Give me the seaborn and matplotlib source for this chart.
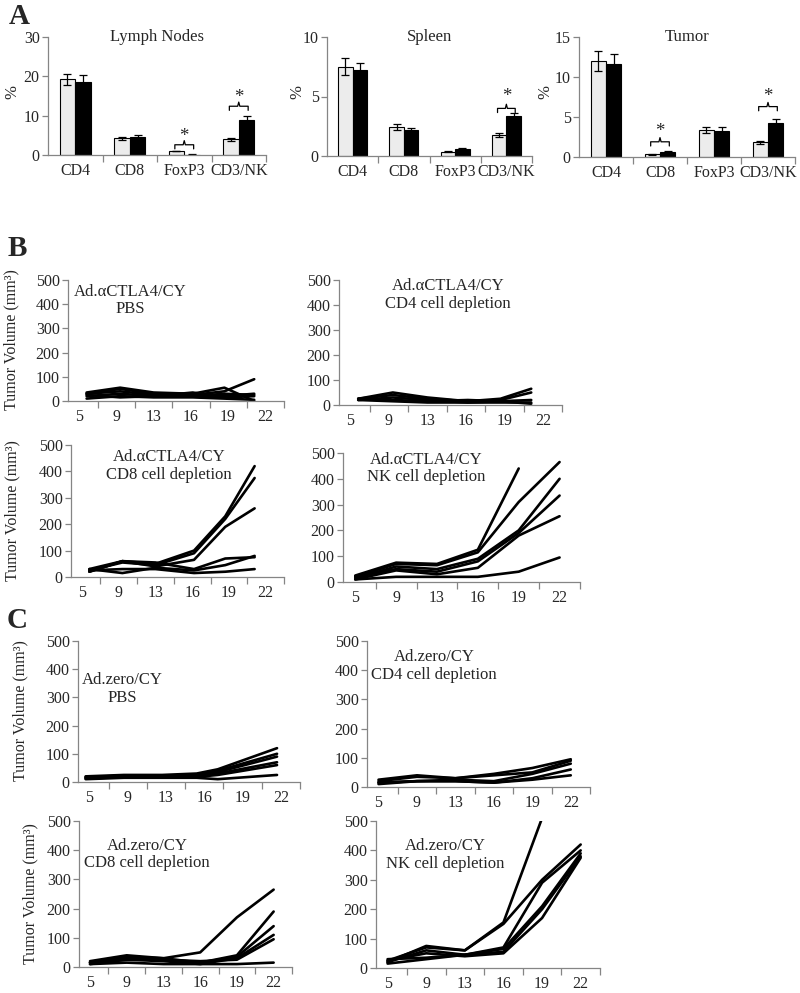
import numpy as np
import pandas as pd
import matplotlib
matplotlib.use("Agg")
import matplotlib.pyplot as plt
import seaborn as sns

sns.set_style("white")
plt.rcParams["font.family"] = ["Liberation Serif", "DejaVu Serif"]

# ---- panel A data: % of cells, control (light) vs treated (black)
cells = ["CD4", "CD8", "FoxP3", "CD3/NK"]
groups = ["Ad.zero/CY", "Ad.aCTLA4/CY"]

ln_ctrl = [19.2, 4.3, 1.0, 4.0]
ln_ctrl_err = [1.5, 0.4, 0.1, 0.35]
ln_trt = [18.6, 4.6, 0.1, 9.0]
ln_trt_err = [1.8, 0.5, 0.05, 1.0]

sp_ctrl = [7.5, 2.45, 0.35, 1.75]
sp_ctrl_err = [0.7, 0.25, 0.03, 0.15]
sp_trt = [7.25, 2.15, 0.6, 3.35]
sp_trt_err = [0.6, 0.2, 0.05, 0.3]

tu_ctrl = [12.0, 0.35, 3.4, 1.85]
tu_ctrl_err = [1.3, 0.05, 0.35, 0.2]
tu_trt = [11.6, 0.65, 3.3, 4.3]
tu_trt_err = [1.3, 0.1, 0.4, 0.5]

# significance brackets: (category index, bracket height, star height)
ln_sig = [(2, 2.6, 4.8), (3, 12.4, 14.5)]
sp_sig = [(3, 4.0, 5.0)]
tu_sig = [(1, 1.9, 3.2), (3, 6.3, 7.6)]

# ---- panels B and C: tumour volume (mm3) per mouse
day_labels = ["5", "9", "13", "16", "19", "22"]
pos_b = [0.2, 1.1, 2.0, 3.05, 3.9, 4.7]
pos_c = [0.0, 1.0, 2.0, 3.0, 4.0, 5.0]
pos_c_pbs = [-0.1, 0.9, 1.9, 2.8, 3.35, 4.9]

b_pbs = [[35, 55, 35, 30, 55, 0],
         [30, 50, 30, 25, 40, 90],
         [20, 30, 20, 20, 20, 30],
         [25, 15, 20, 35, 15, 20],
         [10, 20, 15, 15, 10, 5],
         [30, 40, 25, 20, 30, 25]]
b_cd4 = [[25, 50, 30, 15, 25, 65],
         [25, 40, 25, 15, 20, 50],
         [20, 30, 20, 10, 15, 20],
         [20, 15, 10, 10, 10, 10],
         [25, 20, 15, 20, 15, 5]]
b_cd8 = [[20, 60, 50, 100, 230, 420],
         [25, 55, 45, 90, 220, 375],
         [30, 60, 40, 65, 190, 260],
         [20, 60, 55, 30, 70, 75],
         [30, 15, 35, 25, 45, 80],
         [25, 30, 30, 15, 20, 30]]
b_nk = [[25, 75, 70, 125, 440, np.nan],
        [20, 70, 65, 115, 310, 465],
        [15, 60, 50, 90, 200, 400],
        [20, 50, 40, 80, 190, 335],
        [10, 45, 30, 55, 180, 255],
        [10, 20, 20, 20, 40, 95]]
c_pbs = [[20, 25, 25, 30, 45, 120],
         [18, 22, 22, 25, 40, 100],
         [15, 20, 20, 22, 35, 90],
         [12, 18, 18, 20, 30, 70],
         [10, 15, 15, 15, 10, 25],
         [15, 20, 18, 18, 25, 60]]
c_cd4 = [[25, 40, 30, 45, 65, 95],
         [20, 35, 30, 40, 50, 90],
         [15, 20, 25, 20, 45, 80],
         [15, 20, 20, 15, 30, 60],
         [10, 20, 20, 15, 25, 40]]
c_cd8 = [[15, 35, 30, 50, 170, 265],
         [20, 40, 30, 15, 40, 190],
         [15, 30, 25, 15, 35, 140],
         [15, 25, 20, 10, 30, 110],
         [10, 25, 25, 20, 25, 95],
         [10, 15, 10, 10, 10, 15]]
c_nk = [[20, 75, 60, 155, 510, np.nan],
        [25, 70, 60, 150, 300, 420],
        [20, 60, 45, 70, 290, 400],
        [30, 35, 45, 65, 210, 390],
        [15, 30, 45, 55, 200, 380],
        [25, 50, 40, 50, 170, 375]]

W, H = 800, 993
fig = plt.figure(figsize=(W / 100, H / 100), dpi=100)
AX = "#858585"
FS = 11.5   # tick labels
FT = 12     # titles / in-panel text


def add_ax(x0, x1, ytop, ybot):
    return fig.add_axes([x0 / W, 1 - ybot / H, (x1 - x0) / W, (ybot - ytop) / H])


def style(ax):
    sns.despine(ax=ax)
    for s in ("left", "bottom"):
        ax.spines[s].set_color(AX)
        ax.spines[s].set_linewidth(0.9)
    ax.tick_params(axis="y", which="major", length=4, width=0.9, color=AX,
                   labelsize=FS, pad=2, left=True)
    ax.tick_params(axis="x", which="major", length=0, labelsize=FS, pad=6)
    ax.tick_params(axis="x", which="minor", length=5, width=0.9, color=AX,
                   direction="out", bottom=True)


def bars(ax, ctrl, ctrl_err, trt, trt_err, ymax, step, title, sig):
    df = pd.DataFrame({"cell": cells * 2,
                       "group": [groups[0]] * 4 + [groups[1]] * 4,
                       "pct": ctrl + trt})
    sns.barplot(data=df, x="cell", y="pct", hue="group",
                palette=["#ececec", "black"], edgecolor="black",
                linewidth=0.8, width=0.57, errorbar=None, legend=False, ax=ax)
    centers = []
    for cont, errs in zip(ax.containers, [ctrl_err, trt_err]):
        xs = []
        for bar, e in zip(cont, errs):
            x = bar.get_x() + bar.get_width() / 2
            xs.append(x)
            ax.errorbar(x, bar.get_height(), yerr=e, fmt="none",
                        ecolor="black", elinewidth=0.9, capsize=3, capthick=0.9)
        centers.append(xs)
    d = ymax * 0.035
    for i, yb, ys in sig:
        xa, xb = centers[0][i] - 0.03, centers[1][i] + 0.03
        xm = (xa + xb) / 2
        ax.plot([xa, xa, xm - 0.02, xm, xm + 0.02, xb, xb],
                [yb - d, yb, yb, yb + d, yb, yb, yb - d],
                color="black", lw=0.9)
        ax.text(xm, ys, "*", ha="center", va="center", fontsize=FT + 1.5)
    ax.set_xlim(-0.5, 3.5)
    ax.set_ylim(0, ymax)
    ax.set_yticks(np.arange(0, ymax + 0.1, step))
    ax.set_xticks([0.5, 1.5, 2.5, 3.5], minor=True)
    ax.set_xlabel("")
    ax.set_ylabel("")
    ax.text(0.5, 1.0, title, transform=ax.transAxes, ha="center",
            va="center", fontsize=FT)
    style(ax)


def lines(ax, pos, series, label):
    rows = []
    for m, vals in enumerate(series):
        for p, v in zip(pos, vals):
            rows.append((m, p, v))
    df = pd.DataFrame(rows, columns=["mouse", "pos", "vol"]).dropna()
    sns.lineplot(data=df, x="pos", y="vol", units="mouse", estimator=None,
                 color="black", lw=1.9, sort=False, ax=ax)
    ax.set_xlim(-0.3, 5.5)
    ax.set_ylim(0, 500)
    ax.set_yticks(range(0, 501, 100))
    ax.set_xticks(range(6))
    ax.set_xticklabels(day_labels)
    ax.set_xticks([0.5, 1.5, 2.5, 3.5, 4.5, 5.5], minor=True)
    ax.set_xlabel("")
    ax.set_ylabel("")
    tx, ty = label[1], label[2]
    ax.text(tx, ty, label[0], transform=ax.transAxes, ha="center",
            va="center", fontsize=FT, linespacing=1.15)
    style(ax)


# ---- panel A
ax = add_ax(48, 266, 37, 155)
bars(ax, ln_ctrl, ln_ctrl_err, ln_trt, ln_trt_err, 30, 10, "Lymph Nodes", ln_sig)
ax = add_ax(327, 532, 37, 156)
bars(ax, sp_ctrl, sp_ctrl_err, sp_trt, sp_trt_err, 10, 5, "Spleen", sp_sig)
ax = add_ax(579, 795, 37, 157)
bars(ax, tu_ctrl, tu_ctrl_err, tu_trt, tu_trt_err, 15, 5, "Tumor", tu_sig)
for x in (12, 297, 545):
    fig.text(x / W, 1 - 92 / H, "%", rotation=90, ha="center", va="center",
             fontsize=FT)

# ---- panel B
ax = add_ax(68, 284, 280, 401)
lines(ax, pos_b, b_pbs, ("Ad.\u03b1CTLA4/CY\nPBS", 0.29, 0.83))
ax = add_ax(339, 562, 280, 405)
lines(ax, pos_b, b_cd4, ("Ad.\u03b1CTLA4/CY\nCD4 cell depletion", 0.49, 0.88))
ax = add_ax(71, 284, 445, 577)
lines(ax, pos_b, b_cd8, ("Ad.\u03b1CTLA4/CY\nCD8 cell depletion", 0.46, 0.84))
ax = add_ax(343, 580, 453, 582)
lines(ax, pos_c, b_nk, ("Ad.\u03b1CTLA4/CY\nNK cell depletion", 0.35, 0.88))

# ---- panel C
ax = add_ax(78, 300, 641, 782)
lines(ax, pos_c_pbs, c_pbs, ("Ad.zero/CY\nPBS", 0.2, 0.66))
ax = add_ax(367, 590, 641, 787)
lines(ax, pos_c, c_cd4, ("Ad.zero/CY\nCD4 cell depletion", 0.3, 0.83))
ax = add_ax(79, 292, 821, 967)
lines(ax, pos_c, c_cd8, ("Ad.zero/CY\nCD8 cell depletion", 0.32, 0.77))
ax = add_ax(376, 600, 821, 968)
lines(ax, pos_c, c_nk, ("Ad.zero/CY\nNK cell depletion", 0.31, 0.77))

for x, y in ((11, 340), (12, 511), (20, 711), (30, 894)):
    fig.text(x / W, 1 - y / H, "Tumor Volume (mm\u00b3)", rotation=90,
             ha="center", va="center", fontsize=FT - 0.5)

for t, x, y in (("A", 19, 16), ("B", 17, 248), ("C", 17, 620)):
    fig.text(x / W, 1 - y / H, t, ha="center", va="center", fontsize=21,
             fontweight="bold")

fig.savefig("out.png", dpi=100)
